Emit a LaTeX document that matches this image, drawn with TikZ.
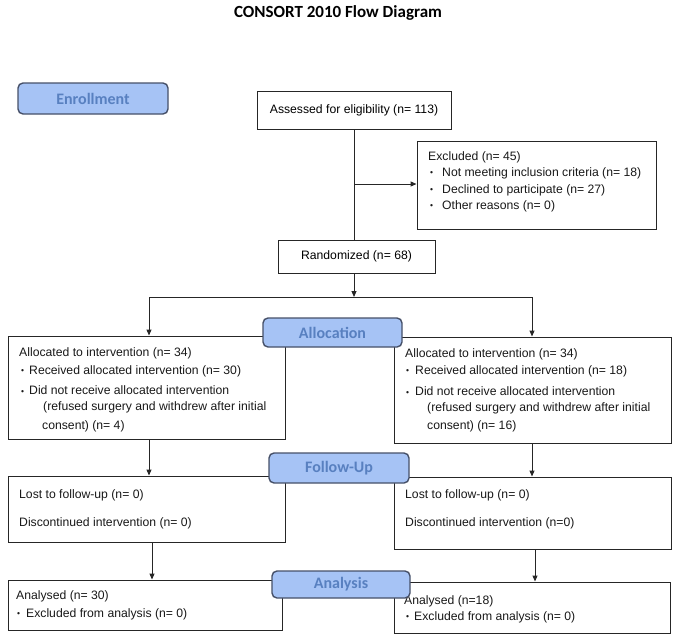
\documentclass[tikz,border=0pt]{standalone}
\usepackage{fontspec}
\setmainfont{Liberation Sans}
\newfontfamily\calfont{Carlito}
\usetikzlibrary{arrows.meta}
\definecolor{phf}{RGB}{166,195,245}
\definecolor{phb}{RGB}{70,80,104}
\definecolor{pht}{RGB}{88,128,192}
\newcommand\bulitem[1]{\makebox[#1][l]{\raisebox{0.3pt}{\fontsize{8.5}{8.5}\selectfont •}}}
\tikzset{
  bx/.style={draw=black!85, line width=1pt, inner sep=0pt, fill=white, font=\fontsize{12.2}{14}\selectfont},
  ph/.style={draw=phb, fill=phf, line width=1.4pt, rounded corners=5pt, inner sep=0pt, text=pht, font=\calfont\bfseries\fontsize{16}{16}\selectfont},
  tx/.style={anchor=west, inner sep=0pt, text=black!90, font=\fontsize{12.2}{14}\selectfont},
  arr/.style={line width=1pt, draw=black!85, -{Triangle[length=6pt,width=5pt]}},
  ln/.style={line width=1pt, draw=black!85},
}
\begin{document}
\begin{tikzpicture}[x=1pt,y=-1pt]
\useasboundingbox (0,0) rectangle (677,635);
% title
\node[inner sep=0pt, font=\calfont\bfseries\fontsize{17}{19}\selectfont] (title) at (338,13) {CONSORT 2010 Flow Diagram};
% boxes
\node[bx, minimum width=194pt, minimum height=38pt] (assess) at (354,110) {Assessed for eligibility (n= 113)};
\node[bx, minimum width=239pt, minimum height=88pt] (excl) at (536.5,185) {};
\node[bx, minimum width=157pt, minimum height=33pt] (rand) at (356.5,256.5) {Randomized (n= 68)};
\node[bx, minimum width=277pt, minimum height=103pt] (la) at (146.5,387.5) {};
\node[bx, minimum width=277pt, minimum height=106pt] (ra) at (532.5,390) {};
\node[bx, minimum width=277pt, minimum height=66pt] (lf) at (146.5,509) {};
\node[bx, minimum width=277pt, minimum height=72pt] (rf) at (532.5,513) {};
\node[bx, minimum width=274pt, minimum height=50pt] (lan) at (145,605) {};
\node[bx, minimum width=276pt, minimum height=51pt] (ran) at (532,607.5) {};
% texts
\node[tx] (ex1) at (428,157) {Excluded (n= 45)};
\node[tx] (ex2) at (430,173) {\bulitem{12pt}Not meeting inclusion criteria (n= 18)};
\node[tx] (ex3) at (430,190) {\bulitem{12pt}Declined to participate (n= 27)};
\node[tx] (ex4) at (430,206) {\bulitem{12pt}Other reasons (n= 0)};
\node[tx] (la1) at (19,353) {Allocated to intervention (n= 34)};
\node[tx] (la2) at (21,371) {\bulitem{8pt}Received allocated intervention (n= 30)};
\node[tx] (la3) at (21,390) {\bulitem{8pt}Did not receive allocated intervention};
\node[tx] (la4) at (43,407) {(refused surgery and withdrew after initial};
\node[tx] (la5) at (42,426) {consent) (n= 4)};
\node[tx] (ra1) at (405,354) {Allocated to intervention (n= 34)};
\node[tx] (ra2) at (406,371) {\bulitem{9pt}Received allocated intervention (n= 18)};
\node[tx] (ra3) at (406,391) {\bulitem{9pt}Did not receive allocated intervention};
\node[tx] (ra4) at (427,408) {(refused surgery and withdrew after initial};
\node[tx] (ra5) at (427,426) {consent) (n= 16)};
\node[tx] (lf1) at (19,495) {Lost to follow-up (n= 0)};
\node[tx] (lf2) at (19,523) {Discontinued intervention (n= 0)};
\node[tx] (rf1) at (405,495) {Lost to follow-up (n= 0)};
\node[tx] (rf2) at (405,523) {Discontinued intervention (n=0)};
\node[tx] (lan1) at (16,596) {Analysed (n= 30)};
\node[tx] (lan2) at (17,614) {\bulitem{9pt}Excluded from analysis (n= 0)};
\node[tx] (ran1) at (404,601) {Analysed (n=18)};
\node[tx] (ran2) at (406,617) {\bulitem{8pt}Excluded from analysis (n= 0)};
% connectors
\coordinate (ej) at (354,184);
\coordinate (split) at (354,297);
\coordinate (sl) at (149,297);
\coordinate (sr) at (532,297);
\coordinate (lx) at (152,560);
\coordinate (rx) at (535,565);
\draw[ln] (assess.south) -- (assess.south |- rand.north);
\draw[arr] (ej) -- (ej -| excl.west);
\draw[arr] (rand.south -| split) -- (split);
\draw[ln] (sl) -- (sr);
\draw[arr] (sl) -- (sl |- la.north);
\draw[arr] (sr) -- (sr |- ra.north);
\draw[arr] (la.south -| sl) -- (lf.north -| sl);
\draw[arr] (ra.south -| sr) -- (rf.north -| sr);
\draw[arr] (lf.south -| lx) -- (lan.north -| lx);
\draw[arr] (rf.south -| rx) -- (ran.north -| rx);
% phase boxes
\node[ph, minimum width=150pt, minimum height=31pt] (enroll) at (93,98.5) {Enrollment};
\node[ph, minimum width=139pt, minimum height=29pt] (alloc) at (332.5,332.5) {Allocation};
\node[ph, minimum width=140pt, minimum height=30pt] (fu) at (339,468) {Follow-Up};
\node[ph, minimum width=138pt, minimum height=27pt] (an) at (341,584.5) {Analysis};
\end{tikzpicture}
\end{document}
